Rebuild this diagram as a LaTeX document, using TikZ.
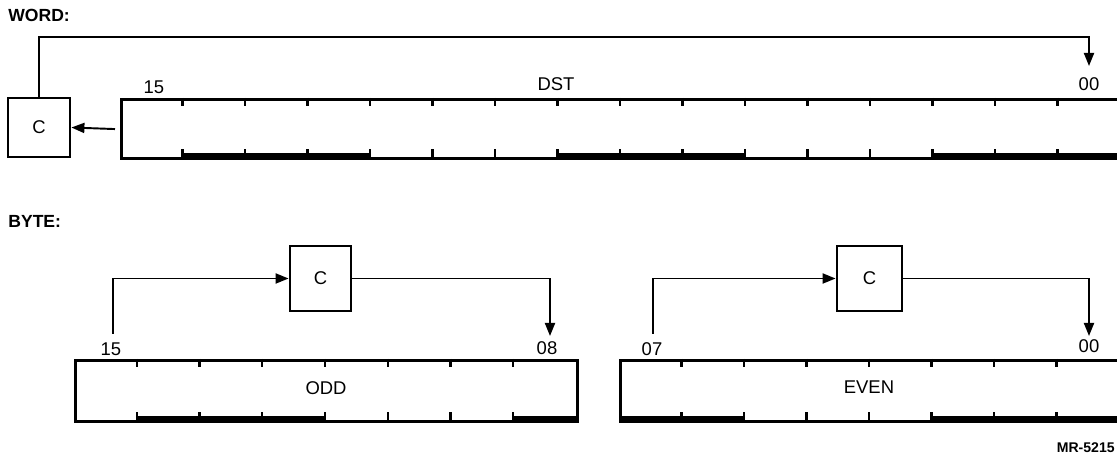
\documentclass[tikz,border=0pt]{standalone}
\usepackage{fontspec}
\setmainfont{Liberation Sans}
\usetikzlibrary{arrows.meta,positioning,calc}

\tikzset{
  reg/.style={draw, line width=1.8pt, inner sep=0pt, anchor=north west},
  cbox/.style={draw, line width=1.6pt, inner sep=0pt, font=\fontsize{10.5}{12}\selectfont},
  bitno/.style={inner sep=0pt, font=\fontsize{10.5}{12}\selectfont},
  head/.style={inner sep=0pt, anchor=west, font=\fontsize{10}{12}\selectfont\bfseries},
  tick/.style={line width=1.3pt},
  heavy/.style={line width=3pt},
  flow/.style={line width=1.1pt, -{Triangle[length=0.26cm,width=0.2cm]}},
}

\begin{document}
\begin{tikzpicture}[x=0.02cm, y=-0.02cm]
\useasboundingbox (0,0) rectangle (1117,455);
% headings
\node[head] (hword) at (8,15) {WORD:};
\node[head] (hbyte) at (8,221) {BYTE:};
% word register (16 bits)
\node[reg, minimum width=20cm, minimum height=1.18cm] (dst) at (120,98) {};
\foreach \k in {1,...,15}{
  \draw[tick] ({120+\k*62.5},98) -- ++(0,8);
  \draw[tick] ({120+\k*62.5},157) -- ++(0,-8);}
\foreach \a/\b in {1/4,7/10,13/16}
  \draw[heavy] ({120+\a*62.5},156) -- ({120+\b*62.5},156);
\node[bitno] (w15) at (154,87) {15};
\node[bitno] (wdst) at (556,84) {DST};
\node[bitno] (w00) at (1089,84) {00};
% word carry
\node[cbox, minimum width=1.24cm, minimum height=1.18cm] (cw) at (39,127.5) {C};
\coordinate (wtop) at (1089,37);
\coordinate (win) at (1089,66);
\draw[flow] (cw.north) |- (wtop) -- (win);
\draw[flow] ([xshift=-0.1cm]dst.west) -- (cw.east);
% odd byte
\node[reg, minimum width=10.04cm, minimum height=1.22cm] (odd) at (74,359) {};
\foreach \k in {1,...,7}{
  \draw[tick] ({74+\k*62.75},359) -- ++(0,8);
  \draw[tick] ({74+\k*62.75},420) -- ++(0,-8);}
\foreach \a/\b in {1/4,7/8}
  \draw[heavy] ({74+\a*62.75},419) -- ({74+\b*62.75},419);
\node[bitno] (lodd) at (326,388) {ODD};
\node[bitno] (o15l) at (111,349) {15};
\node[bitno] (o08l) at (547,348) {08};
\node[cbox, minimum width=1.22cm, minimum height=1.3cm] (codd) at (320.5,278.5) {C};
\coordinate (o15) at (113,334);
\coordinate (o08) at (550,336);
\draw[flow] (o15) |- (codd.west);
\draw[flow] (codd.east) -| (o08);
% even byte
\node[reg, minimum width=10cm, minimum height=1.22cm] (even) at (619,359) {};
\foreach \k in {1,...,7}{
  \draw[tick] ({619+\k*62.5},359) -- ++(0,8);
  \draw[tick] ({619+\k*62.5},420) -- ++(0,-8);}
\foreach \a/\b in {0/2,5/8}
  \draw[heavy] ({619+\a*62.5},419) -- ({619+\b*62.5},419);
\node[bitno] (leven) at (869,387) {EVEN};
\node[bitno] (e07l) at (652,349) {07};
\node[bitno] (e00l) at (1089,346) {00};
\node[cbox, minimum width=1.3cm, minimum height=1.3cm] (ceven) at (869.5,278.5) {C};
\coordinate (e07) at (653,334);
\coordinate (e00) at (1089,336);
\draw[flow] (e07) |- (ceven.west);
\draw[flow] (ceven.east) -| (e00);
% figure number
\node[anchor=east, inner sep=0pt, font=\fontsize{8}{9}\selectfont\bfseries] (mr) at (1115,448) {MR-5215};
\end{tikzpicture}
\end{document}
